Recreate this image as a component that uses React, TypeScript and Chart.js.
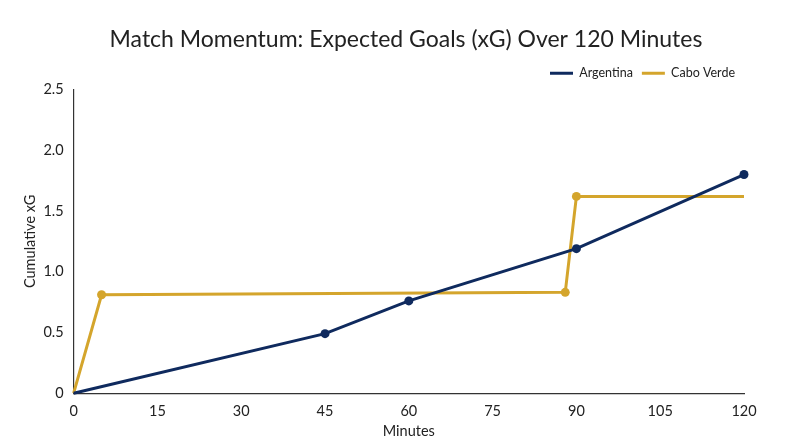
import { useEffect, useRef } from "react"
import { Chart, registerables } from "chart.js"

Chart.register(...registerables)

const argMinutes = [0, 45, 60, 90, 120]
const argXg = [0, 0.49, 0.76, 1.19, 1.8]
const argMarked = [false, true, true, true, true]

const cvMinutes = [0, 5, 88, 90, 120]
const cvXg = [0, 0.81, 0.83, 1.62, 1.62]
const cvMarked = [false, true, true, true, false]

const TITLE = "Match Momentum: Expected Goals (xG) Over 120 Minutes"
const NAVY = "#0f2a5e"
const GOLD = "#d4a52c"

// title is centred on the page, not on the padded layout box
const titlePlugin = {
  id: "pageTitle",
  afterDraw(chart: Chart) {
    const c = chart.ctx
    c.save()
    c.font = "normal 23px Lato, 'Open Sans', sans-serif"
    c.fillStyle = "#222"
    c.textAlign = "center"
    c.textBaseline = "middle"
    c.fillText(TITLE, 406, 40)
    c.restore()
  },
}

export default function App() {
  const chartRef = useRef<HTMLCanvasElement>(null)
  const chartInstance = useRef<Chart | null>(null)

  useEffect(() => {
    if (!chartRef.current) return
    if (chartInstance.current) chartInstance.current.destroy()
    const ctx = chartRef.current.getContext("2d")
    if (!ctx) return

    Chart.defaults.font.family = "Lato, 'Open Sans', sans-serif"
    Chart.defaults.color = "#222"

    chartInstance.current = new Chart(ctx, {
      type: "line",
      data: {
        datasets: [
          {
            label: "Argentina",
            data: argMinutes.map((m, i) => ({ x: m, y: argXg[i] })),
            borderColor: NAVY,
            backgroundColor: NAVY,
            borderWidth: 3,
            pointRadius: argMarked.map((m) => (m ? 4.5 : 0)),
            pointBackgroundColor: NAVY,
            pointBorderWidth: 0,
            tension: 0,
            clip: false,
          },
          {
            label: "Cabo Verde",
            data: cvMinutes.map((m, i) => ({ x: m, y: cvXg[i] })),
            borderColor: GOLD,
            backgroundColor: GOLD,
            borderWidth: 3,
            pointRadius: cvMarked.map((m) => (m ? 4.5 : 0)),
            pointBackgroundColor: GOLD,
            pointBorderWidth: 0,
            tension: 0,
            clip: false,
          },
        ],
      },
      options: {
        animation: false,
        responsive: false,
        layout: { padding: { left: 18, right: 56, top: 58, bottom: 3 } },
        plugins: {
          title: { display: false },
          legend: {
            position: "top",
            align: "end",
            labels: {
              boxWidth: 23,
              boxHeight: 3,
              font: { size: 12.5 },
              color: "#222",
              padding: 9,
              generateLabels: (chart) =>
                chart.data.datasets.map((ds, i) => ({
                  text: ds.label as string,
                  fillStyle: ds.borderColor as string,
                  strokeStyle: ds.borderColor as string,
                  lineWidth: 0,
                  datasetIndex: i,
                  hidden: false,
                  fontColor: "#222",
                })),
            },
          },
          tooltip: { enabled: false },
        },
        scales: {
          x: {
            type: "linear",
            min: 0,
            max: 120,
            ticks: { stepSize: 15, font: { size: 14.5 }, color: "#222", padding: 3 },
            grid: { display: false, drawTicks: true, tickLength: 6, tickColor: "#333" },
            border: { color: "#333", width: 1.2 },
            title: { display: true, text: "Minutes", font: { size: 14.5 }, color: "#222", padding: { top: 0 } },
          },
          y: {
            min: 0,
            max: 2.5,
            ticks: {
              stepSize: 0.5,
              font: { size: 14.5 },
              color: "#222",
              padding: 4,
              callback: (v) => (Number(v) === 0 ? "0" : Number(v).toFixed(1)),
            },
            grid: { display: false, drawTicks: true, tickLength: 6, tickColor: "#333" },
            border: { color: "#333", width: 1.2 },
            title: { display: true, text: "Cumulative xG", font: { size: 14.5 }, color: "#222", padding: { bottom: 0 } },
          },
        },
      },
      plugins: [titlePlugin],
    })

    return () => {
      if (chartInstance.current) chartInstance.current.destroy()
    }
  }, [])

  return (
    <div style={{ position: "absolute", left: 0, top: 0, width: 800, height: 447, background: "#fff" }}>
      <canvas ref={chartRef} width={800} height={447} />
    </div>
  )
}
